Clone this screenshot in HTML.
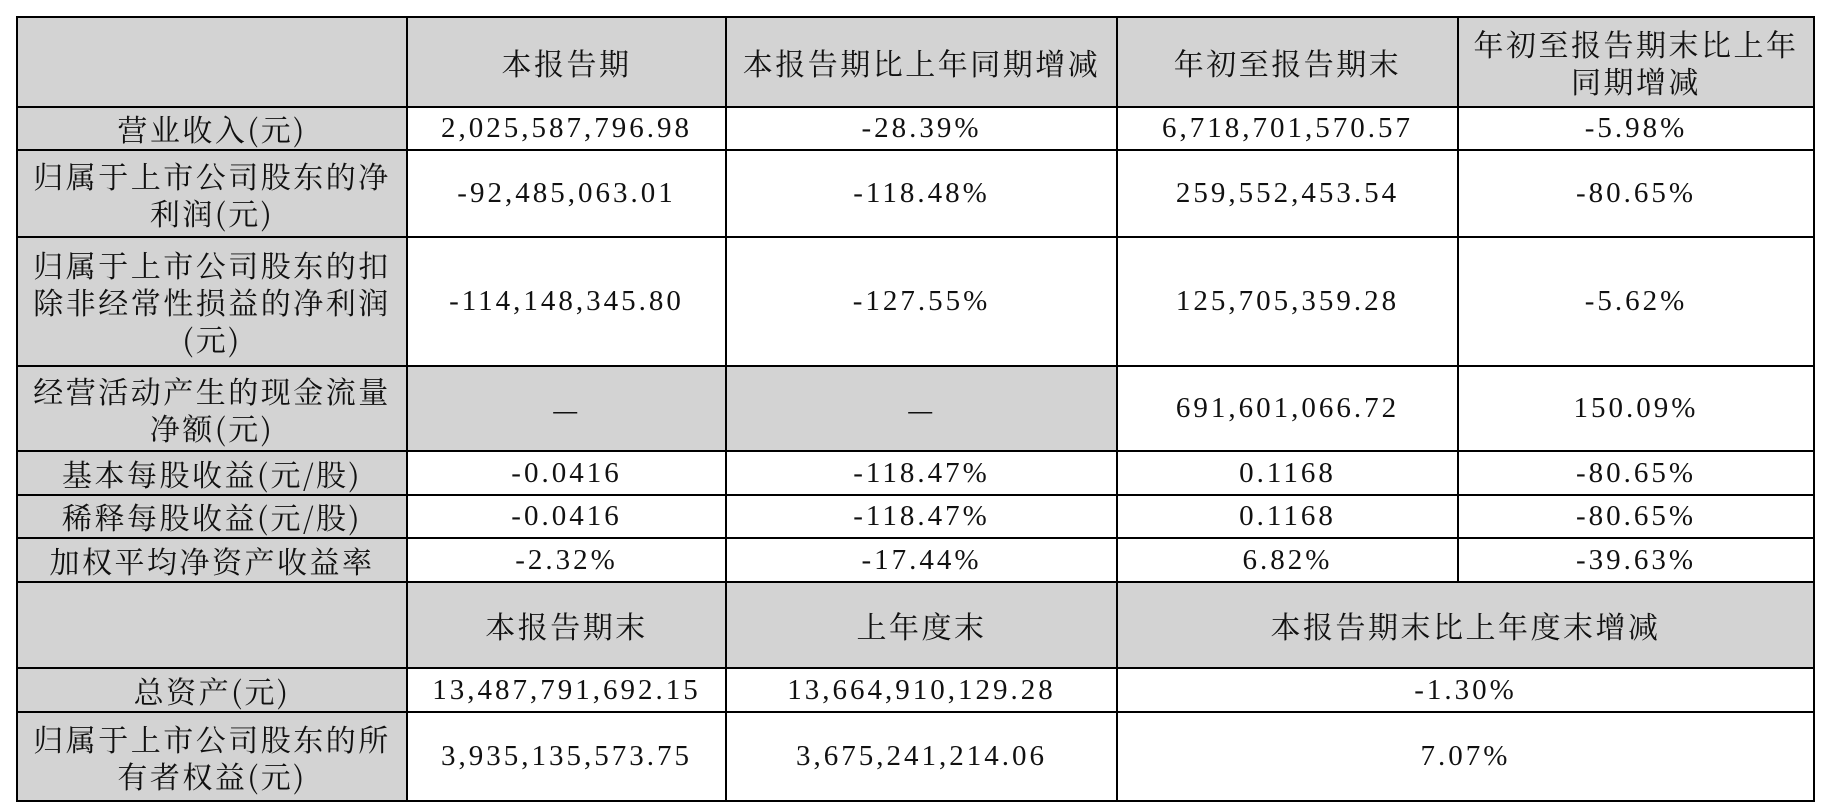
<!DOCTYPE html>
<html><head><meta charset="utf-8"><style>
html,body{margin:0;padding:0;background:#fff;width:1828px;height:812px;overflow:hidden}
table{position:absolute;left:16px;top:16px;border-collapse:collapse;table-layout:fixed;width:1797px}
td{border:2.5px solid #000;text-align:center;vertical-align:middle;padding:0 4px;
font-family:"Liberation Serif","Noto Serif CJK SC",serif;font-size:29px;line-height:37px;color:#111;letter-spacing:3px;overflow:hidden}
.g{background:#d3d3d3}
.c{font-family:"Noto Serif CJK SC","Liberation Serif",serif;font-size:30px;letter-spacing:2.5px}
</style></head><body>
<table>
<colgroup><col style="width:390px"><col style="width:319px"><col style="width:391px"><col style="width:341px"><col style="width:356px"></colgroup>
<tr style="height:90px"><td class="g"></td><td class="g c">本报告期</td><td class="g c">本报告期比上年同期增减</td><td class="g c">年初至报告期末</td><td class="g c">年初至报告期末比上年同期增减</td></tr>
<tr style="height:43px"><td class="g c">营业收入(元)</td><td>2,025,587,796.98</td><td>-28.39%</td><td>6,718,701,570.57</td><td>-5.98%</td></tr>
<tr style="height:87px"><td class="g c">归属于上市公司股东的净利润(元)</td><td>-92,485,063.01</td><td>-118.48%</td><td>259,552,453.54</td><td>-80.65%</td></tr>
<tr style="height:129px"><td class="g c">归属于上市公司股东的扣除非经常性损益的净利润(元)</td><td>-114,148,345.80</td><td>-127.55%</td><td>125,705,359.28</td><td>-5.62%</td></tr>
<tr style="height:85px"><td class="g c">经营活动产生的现金流量净额(元)</td><td class="g c">—</td><td class="g c">—</td><td>691,601,066.72</td><td>150.09%</td></tr>
<tr style="height:44px"><td class="g c">基本每股收益(元/股)</td><td>-0.0416</td><td>-118.47%</td><td>0.1168</td><td>-80.65%</td></tr>
<tr style="height:43px"><td class="g c">稀释每股收益(元/股)</td><td>-0.0416</td><td>-118.47%</td><td>0.1168</td><td>-80.65%</td></tr>
<tr style="height:44px"><td class="g c">加权平均净资产收益率</td><td>-2.32%</td><td>-17.44%</td><td>6.82%</td><td>-39.63%</td></tr>
<tr style="height:86px"><td class="g"></td><td class="g c">本报告期末</td><td class="g c">上年度末</td><td class="g c" colspan="2">本报告期末比上年度末增减</td></tr>
<tr style="height:44px"><td class="g c">总资产(元)</td><td>13,487,791,692.15</td><td>13,664,910,129.28</td><td colspan="2">-1.30%</td></tr>
<tr style="height:89px"><td class="g c">归属于上市公司股东的所有者权益(元)</td><td>3,935,135,573.75</td><td>3,675,241,214.06</td><td colspan="2">7.07%</td></tr>
</table>
</body></html>
